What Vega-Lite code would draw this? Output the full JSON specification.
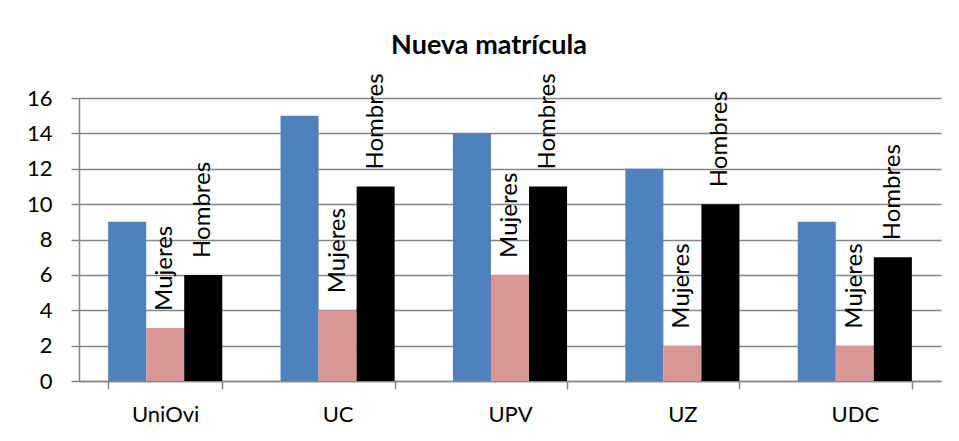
{
  "$schema": "https://vega.github.io/schema/vega-lite/v6.json",
  "width": 862,
  "height": 283,
  "autosize": {"type": "none"},
  "padding": {"left": 79, "top": 98, "right": 18, "bottom": 60},
  "background": "white",
  "title": {"text": "Nueva matrícula", "font": "Lato", "fontSize": 27, "fontWeight": "bold", "color": "black", "anchor": "middle", "frame": "group", "dx": -21, "offset": 13},
  "data": {"values": [
    {"uni": "UniOvi", "serie": "Total", "valor": 9},
    {"uni": "UniOvi", "serie": "Mujeres", "valor": 3},
    {"uni": "UniOvi", "serie": "Hombres", "valor": 6},
    {"uni": "UC", "serie": "Total", "valor": 15},
    {"uni": "UC", "serie": "Mujeres", "valor": 4},
    {"uni": "UC", "serie": "Hombres", "valor": 11},
    {"uni": "UPV", "serie": "Total", "valor": 14},
    {"uni": "UPV", "serie": "Mujeres", "valor": 6},
    {"uni": "UPV", "serie": "Hombres", "valor": 11},
    {"uni": "UZ", "serie": "Total", "valor": 12},
    {"uni": "UZ", "serie": "Mujeres", "valor": 2},
    {"uni": "UZ", "serie": "Hombres", "valor": 10},
    {"uni": "UDC", "serie": "Total", "valor": 9},
    {"uni": "UDC", "serie": "Mujeres", "valor": 2},
    {"uni": "UDC", "serie": "Hombres", "valor": 7}
  ]},
  "encoding": {
    "x": {"field": "uni", "type": "nominal", "sort": ["UniOvi", "UC", "UPV", "UZ", "UDC"],
      "scale": {"paddingInner": 0.338, "paddingOuter": 0.169},
      "axis": {"title": null, "labelAngle": 0, "labelFont": "Lato", "labelFontSize": 22, "labelColor": "black", "labelPadding": 15, "tickBand": "extent", "tickSize": 8, "tickColor": "#868686", "tickWidth": 1.5, "domainColor": "#868686", "domainWidth": 1.5, "grid": false}},
    "xOffset": {"field": "serie", "type": "nominal", "sort": ["Total", "Mujeres", "Hombres"], "scale": {"paddingInner": 0, "paddingOuter": 0}},
    "y": {"field": "valor", "type": "quantitative", "scale": {"domain": [0, 16]},
      "axis": {"title": null, "values": [0, 2, 4, 6, 8, 10, 12, 14, 16], "labelFont": "Lato", "labelFontSize": 22, "labelColor": "black", "labelPadding": 19, "tickSize": 8, "tickColor": "#868686", "tickWidth": 1.5, "domainColor": "#868686", "domainWidth": 1.5, "gridColor": "#868686", "gridWidth": 1.5}}
  },
  "layer": [
    {"mark": {"type": "bar"},
     "encoding": {"color": {"field": "serie", "type": "nominal", "scale": {"domain": ["Total", "Mujeres", "Hombres"], "range": ["#4F81BD", "#D99694", "#000000"]}, "legend": null}}},
    {"transform": [{"filter": "datum.serie !== 'Total'"}],
     "mark": {"type": "text", "angle": 270, "align": "left", "baseline": "middle", "dx": 17, "font": "Lato", "fontSize": 24, "color": "black"},
     "encoding": {"text": {"field": "serie"}}}
  ],
  "config": {"view": {"stroke": null}}
}
